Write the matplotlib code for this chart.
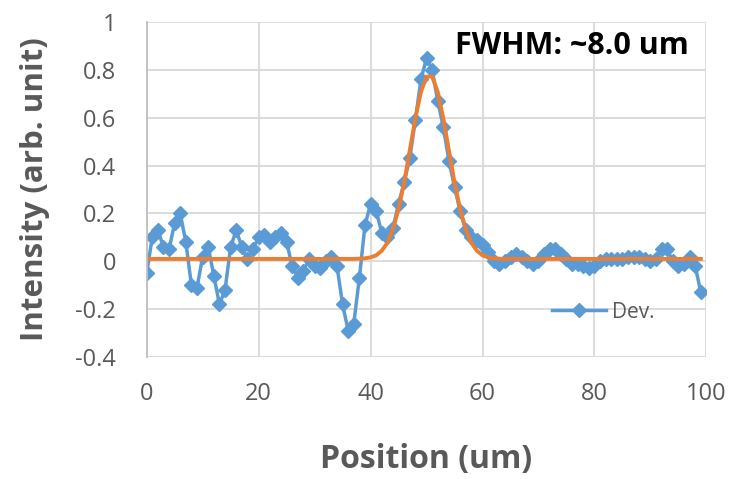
import numpy as np
import matplotlib
matplotlib.use('Agg')
import matplotlib.pyplot as plt

plt.rcParams['font.family'] = ['Open Sans', 'DejaVu Sans']

# measured profile (Dev.), one point per um
pos = list(range(100))
dev = [-0.05, 0.10, 0.13, 0.06, 0.05, 0.16, 0.20, 0.08, -0.10, -0.11,
       0.02, 0.06, -0.06, -0.18, -0.12, 0.06, 0.13, 0.06, 0.01, 0.05,
       0.10, 0.11, 0.08, 0.10, 0.12, 0.08, -0.02, -0.07, -0.04, 0.01,
       -0.02, -0.03, 0.00, 0.02, -0.02, -0.18, -0.29, -0.26, -0.07, 0.15,
       0.24, 0.21, 0.12, 0.10, 0.14, 0.24, 0.33, 0.43, 0.59, 0.76,
       0.85, 0.80, 0.67, 0.56, 0.42, 0.31, 0.21, 0.13, 0.10, 0.09,
       0.07, 0.04, 0.00, -0.01, 0.00, 0.02, 0.03, 0.02, 0.00, -0.01,
       0.00, 0.03, 0.05, 0.05, 0.03, 0.01, -0.01, -0.01, -0.02, -0.03,
       -0.02, 0.00, 0.01, 0.01, 0.01, 0.01, 0.02, 0.02, 0.02, 0.01,
       0.00, 0.01, 0.05, 0.05, 0.00, -0.02, -0.01, 0.02, -0.02, -0.13]

# fitted curve
fit = [0.01] * 38 + [0.011, 0.0125, 0.0165, 0.025, 0.044, 0.077, 0.134, 0.218,
                     0.330, 0.463, 0.597, 0.708, 0.772, 0.772, 0.708, 0.597,
                     0.463, 0.330, 0.218, 0.134, 0.077, 0.044, 0.025, 0.0165,
                     0.0125, 0.011] + [0.01] * 36

fig = plt.figure(figsize=(7.37, 4.79), dpi=100)
ax = fig.add_axes([0.199, 0.2547, 0.7595, 0.6993])

ax.plot(pos, dev, color='#5B9BD5', lw=2.5, marker='D', ms=7, label='Dev.')
ax.plot(pos, fit, color='#ED7D31', lw=2.8)

ax.set_xlim(0, 100)
ax.set_ylim(-0.4, 1)
ax.set_xticks([0, 20, 40, 60, 80, 100])
ax.set_yticks([-0.4, -0.2, 0, 0.2, 0.4, 0.6, 0.8, 1])
ax.set_yticklabels(['-0.4', '-0.2', '0', '0.2', '0.4', '0.6', '0.8', '1'])
ax.grid(True, color='#d9d9d9', lw=1.3)
ax.set_axisbelow(True)
for s in ['top', 'right', 'bottom']:
    ax.spines[s].set_visible(False)
ax.spines['left'].set_color('#bfbfbf')
ax.spines['left'].set_linewidth(1.3)
ax.tick_params(length=0, labelsize=17, colors='#595959')
ax.tick_params(axis='x', pad=18)
ax.tick_params(axis='y', pad=22)

ax.set_xlabel('Position (um)', fontsize=23, fontweight='bold', color='#595959', labelpad=27)
ax.set_ylabel('Intensity (arb. unit)', fontsize=22.5, fontweight='bold', color='#595959', labelpad=18)

ax.text(55.0, 0.90, 'FWHM: ~8.0 um', fontsize=22, fontweight='bold', color='black', va='center')

leg = ax.legend(loc='center left', bbox_to_anchor=(0.69, 0.134), frameon=False,
                fontsize=15, handlelength=2.6, handletextpad=0.3)
for t in leg.get_texts():
    t.set_color('#595959')

fig.savefig('out.png', dpi=100)
